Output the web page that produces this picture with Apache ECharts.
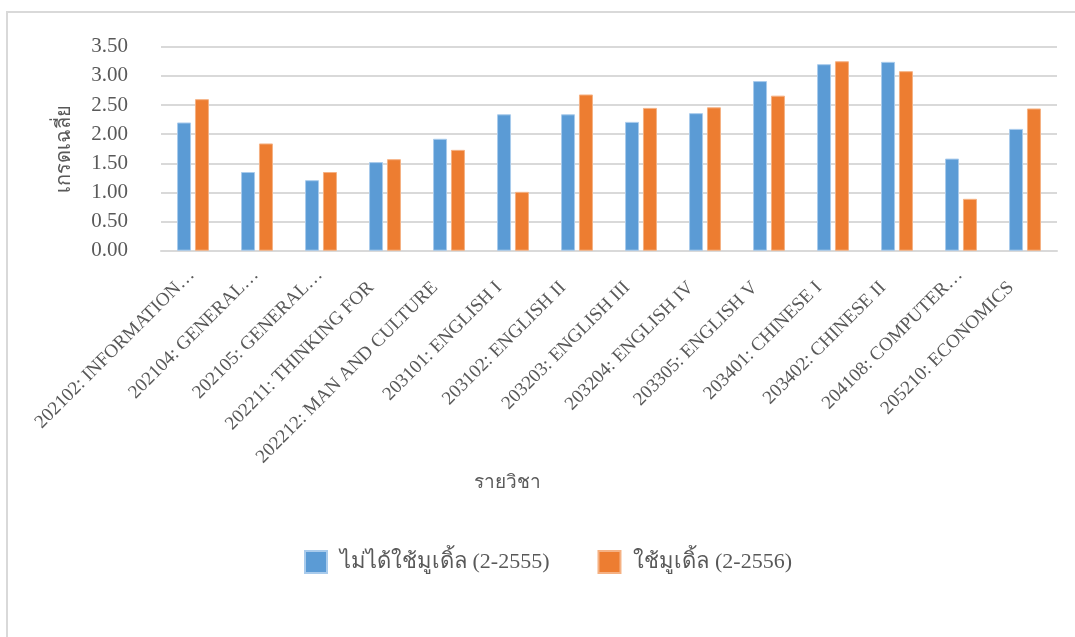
<!DOCTYPE html>
<html>
<head>
<meta charset="utf-8">
<script src="https://cdn.jsdelivr.net/npm/echarts@6/dist/echarts.min.js"></script>
<style>
  html, body { margin: 0; padding: 0; background: #ffffff; }
  #chart { width: 1075px; height: 637px; }
</style>
</head>
<body>
<div id="chart"></div>
<script>
// Course codes and names (long names shortened with an ellipsis)
const categories = [
  '202102: INFORMATION…',
  '202104: GENERAL…',
  '202105: GENERAL…',
  '202211: THINKING FOR',
  '202212: MAN AND CULTURE',
  '203101: ENGLISH I',
  '203102: ENGLISH II',
  '203203: ENGLISH III',
  '203204: ENGLISH IV',
  '203305: ENGLISH V',
  '203401: CHINESE I',
  '203402: CHINESE II',
  '204108: COMPUTER…',
  '205210: ECONOMICS'
];

// Average grade, semester 2/2555 (without Moodle)
const noMoodle = [2.20, 1.35, 1.21, 1.52, 1.92, 2.34, 2.34, 2.21, 2.36, 2.91, 3.20, 3.24, 1.58, 2.09];
// Average grade, semester 2/2556 (with Moodle)
const withMoodle = [2.60, 1.84, 1.35, 1.57, 1.73, 1.01, 2.68, 2.45, 2.46, 2.66, 3.25, 3.08, 0.89, 2.44];

const seriesNames = ['ไม่ได้ใช้มูเดิ้ล (2-2555)', 'ใช้มูเดิ้ล (2-2556)'];
const yAxisTitle = 'เกรดเฉลี่ย';
const xAxisTitle = 'รายวิชา';

const FONT = "'Liberation Serif', 'Times New Roman', serif";
const TEXT = '#595959';
const GRID = '#d9d9d9';

// Shortened names sit a little further along the axis than full ones
const axisData = categories.map(c => c.endsWith('…')
  ? { value: c, textStyle: { padding: [0, 2, 0, 0] } }
  : c);

const chart = echarts.init(document.getElementById('chart'), null, { renderer: 'canvas' });

chart.setOption({
  animation: false,
  backgroundColor: '#ffffff',
  textStyle: { fontFamily: FONT, color: TEXT },
  graphic: [
    {
      type: 'rect',
      silent: true,
      shape: { x: 7, y: 12, width: 1200, height: 800 },
      style: { fill: 'none', stroke: GRID, lineWidth: 2 }
    },
    {
      type: 'text',
      left: 474,
      top: 474,
      silent: true,
      style: { text: xAxisTitle, font: "19px " + FONT, fill: TEXT }
    }
  ],
  grid: { left: 161, right: 18, top: 46.7, bottom: 386.3, containLabel: false },
  legend: {
    left: 304,
    top: 550,
    padding: 0,
    itemWidth: 22,
    itemHeight: 22,
    itemGap: 48,
    icon: 'rect',
    textStyle: { fontFamily: FONT, fontSize: 22, color: TEXT, padding: [0, 0, 0, 8] },
    data: seriesNames
  },
  xAxis: {
    type: 'category',
    data: axisData,
    axisLine: { show: true, lineStyle: { color: GRID, width: 2 } },
    axisTick: { show: false },
    axisLabel: {
      rotate: 45,
      interval: 0,
      margin: 20,
      padding: [0, 20, 0, 0],
      fontFamily: FONT,
      fontSize: 19,
      color: TEXT
    }
  },
  yAxis: {
    type: 'value',
    min: 0,
    max: 3.5,
    interval: 0.5,
    name: yAxisTitle,
    nameLocation: 'middle',
    nameGap: 86,
    nameTextStyle: { fontFamily: FONT, fontSize: 20, color: TEXT },
    axisLine: { show: false },
    axisTick: { show: false },
    axisLabel: {
      margin: 33,
      fontFamily: FONT,
      fontSize: 21,
      color: TEXT,
      formatter: v => v.toFixed(2)
    },
    splitLine: { lineStyle: { color: GRID, width: 2 } }
  },
  series: [
    {
      name: seriesNames[0],
      type: 'bar',
      data: noMoodle,
      barWidth: 14,
      barGap: '28%',
      itemStyle: { color: '#5B9BD5', borderColor: '#a9cbec', borderWidth: 1 }
    },
    {
      name: seriesNames[1],
      type: 'bar',
      data: withMoodle,
      barWidth: 14,
      barGap: '28%',
      itemStyle: { color: '#ED7D31', borderColor: '#f5b183', borderWidth: 1 }
    }
  ]
});
</script>
</body>
</html>
